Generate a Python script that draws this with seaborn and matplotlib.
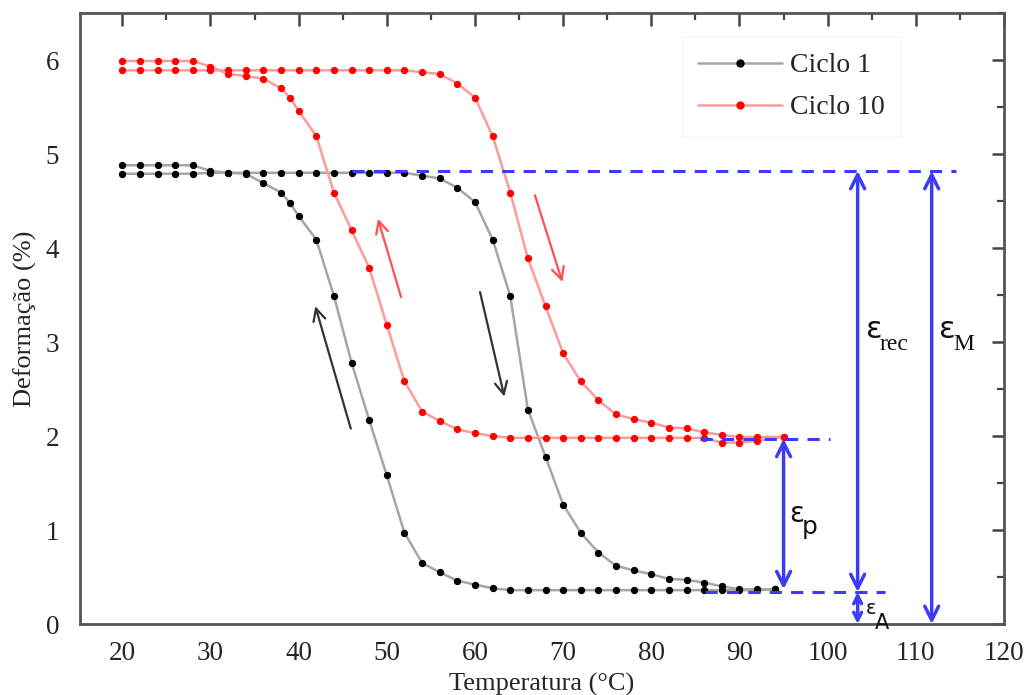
import numpy as np
import pandas as pd
import matplotlib
matplotlib.use("Agg")
import matplotlib.pyplot as plt
import seaborn as sns
from matplotlib.lines import Line2D
from matplotlib.ticker import MultipleLocator

# ---------------- data ----------------
c1_heat_T = [20, 22, 24, 26, 28, 30, 32, 34, 36, 38, 40, 42, 44, 46, 48, 50, 52,
             54, 56, 58, 60, 62, 64, 66, 68, 70, 72, 74, 76, 78, 80, 82, 84, 86, 88, 90, 92, 94]
c1_heat_D = [4.79, 4.79, 4.79, 4.79, 4.79, 4.80, 4.80, 4.80, 4.80, 4.80, 4.80, 4.80, 4.80, 4.80, 4.80, 4.80, 4.80,
             4.77, 4.74, 4.64, 4.49, 4.09, 3.49, 2.28, 1.78, 1.27, 0.97, 0.76, 0.62, 0.57, 0.53, 0.48, 0.47, 0.44, 0.40, 0.37, 0.37, 0.37]

c1_cool_T = [94, 92, 90, 88, 86, 84, 82, 80, 78, 76, 74, 72, 70, 68, 66, 64, 62, 60, 58, 56, 54, 52,
             50, 48, 46, 44, 42, 40, 39, 38, 36, 34, 32, 30, 28, 26, 24, 22, 20]
c1_cool_D = [0.37, 0.36, 0.36, 0.36, 0.36, 0.36, 0.36, 0.36, 0.36, 0.36, 0.36, 0.36, 0.36, 0.36, 0.36, 0.36, 0.38, 0.42, 0.46, 0.55, 0.65, 0.97,
             1.58, 2.17, 2.78, 3.49, 4.09, 4.34, 4.48, 4.59, 4.69, 4.79, 4.80, 4.82, 4.88, 4.88, 4.88, 4.88, 4.88]

c10_heat_T = [20, 22, 24, 26, 28, 30, 32, 34, 36, 38, 40, 42, 44, 46, 48, 50, 52,
              54, 56, 58, 60, 62, 64, 66, 68, 70, 72, 74, 76, 78, 80, 82, 84, 86, 88, 90, 92, 95]
c10_heat_D = [5.89, 5.89, 5.89, 5.89, 5.89, 5.89, 5.89, 5.89, 5.89, 5.89, 5.89, 5.89, 5.89, 5.89, 5.89, 5.89, 5.89,
              5.87, 5.85, 5.75, 5.60, 5.19, 4.59, 3.89, 3.38, 2.88, 2.58, 2.38, 2.23, 2.18, 2.14, 2.09, 2.08, 2.04, 2.01, 1.99, 1.99, 1.99]

c10_cool_T = [95, 92, 90, 88, 86, 84, 82, 80, 78, 76, 74, 72, 70, 68, 66, 64, 62, 60, 58, 56, 54, 52,
              50, 48, 46, 44, 42, 40, 39, 38, 36, 34, 32, 30, 28, 26, 24, 22, 20]
c10_cool_D = [1.99, 1.95, 1.93, 1.93, 1.98, 1.98, 1.98, 1.98, 1.98, 1.98, 1.98, 1.98, 1.98, 1.98, 1.98, 1.98, 2.00, 2.03, 2.07, 2.16, 2.26, 2.58,
              3.18, 3.79, 4.19, 4.59, 5.19, 5.46, 5.60, 5.70, 5.80, 5.83, 5.85, 5.93, 5.99, 5.99, 5.99, 5.99, 5.99]

series_labels = ["Ciclo 1", "Ciclo 10"]
x_ticks = [20, 30, 40, 50, 60, 70, 80, 90, 100, 110, 120]
y_ticks = [0, 1, 2, 3, 4, 5, 6]

# annotation levels
eps_M_level = 4.82
eps_p_top = 1.97
eps_A_level = 0.34

# ---------------- style ----------------
sns.set_theme(style="white")
plt.rcParams["font.family"] = ["Liberation Serif", "DejaVu Serif"]

fig = plt.figure(figsize=(10.33, 6.95), dpi=100)
ax = fig.add_axes([80 / 1033, (695 - 624) / 695, (1004 - 80) / 1033, (624 - 13) / 695])

line_black = "#a6a6a6"
line_red = "#ff9a9a"

branches = [
    (c1_heat_T, c1_heat_D, line_black, "black"),
    (c1_cool_T, c1_cool_D, line_black, "black"),
    (c10_heat_T, c10_heat_D, line_red, "red"),
    (c10_cool_T, c10_cool_D, line_red, "red"),
]
for T, D, lc, mc in branches:
    df = pd.DataFrame({"T": T, "D": D})
    sns.lineplot(data=df, x="T", y="D", sort=False, ax=ax, color=lc, lw=1.8,
                 marker="o", markersize=4.5, markerfacecolor=mc, markeredgecolor=mc,
                 legend=False)

# direction arrows
arr_kw = dict(arrowstyle="->", lw=1.6, mutation_scale=22)
ax.annotate("", xy=(41.8, 3.41), xytext=(46.0, 2.05), arrowprops=dict(color="#333333", **arr_kw))
ax.annotate("", xy=(63.4, 2.39), xytext=(60.5, 3.56), arrowprops=dict(color="#333333", **arr_kw))
ax.annotate("", xy=(48.9, 4.34), xytext=(51.7, 3.45), arrowprops=dict(color="#ff5050", **arr_kw))
ax.annotate("", xy=(70.0, 3.61), xytext=(66.7, 4.59), arrowprops=dict(color="#ff5050", **arr_kw))

# blue dashed reference lines
blue = "#3c3cf5"
dash_kw = dict(color=blue, lw=2.2, ls=(0, (4, 3)))
ax.plot([46, 114.6], [eps_M_level, eps_M_level], **dash_kw)
ax.plot([85.5, 100.3], [eps_p_top, eps_p_top], **dash_kw)
ax.plot([86.1, 106.5], [eps_A_level, eps_A_level], **dash_kw)

# double arrows
darr = dict(arrowstyle="<->", color=blue, lw=2.5, mutation_scale=25, shrinkA=0, shrinkB=0)
ax.annotate("", xy=(95.0, eps_p_top), xytext=(95.0, 0.37), arrowprops=darr)
ax.annotate("", xy=(103.4, eps_M_level), xytext=(103.4, eps_A_level), arrowprops=darr)
ax.annotate("", xy=(103.4, eps_A_level), xytext=(103.4, 0.0), arrowprops=dict(darr, mutation_scale=14))
ax.annotate("", xy=(111.8, eps_M_level), xytext=(111.8, 0.0), arrowprops=darr)

# epsilon labels: symbol plus subscript placed right after it
def eps_label(x, y, sub, fs=22, sfs=17, sans=False, dx=1.5, dy=-0.16):
    fam = ["DejaVu Sans"] if sans else ["Liberation Serif", "DejaVu Serif"]
    ax.text(x, y, "ε", fontsize=fs, family=["DejaVu Sans"], ha="left", va="center", color="#111111")
    ax.text(x + dx, y + dy, sub, fontsize=sfs, family=fam, ha="left", va="center", color="#111111")

eps_label(95.6, 1.17, "p", sans=True, fs=20, sfs=18, dx=1.45, dy=-0.14)
eps_label(104.3, 3.13, "rec", dx=1.6)
eps_label(112.6, 3.13, "M", dx=1.6)
eps_label(104.3, 0.17, "A", sans=True, fs=14, sfs=15, dx=1.1, dy=-0.16)

# axes
ax.set_xlim(15.2, 120)
ax.set_ylim(0, 6.5)
ax.set_xticks(x_ticks)
ax.set_yticks(y_ticks)
ax.set_xticklabels([str(t) for t in x_ticks])
ax.set_yticklabels([str(t) for t in y_ticks])
ax.xaxis.set_minor_locator(MultipleLocator(5))
ax.yaxis.set_minor_locator(MultipleLocator(0.5))
ax.tick_params(which="major", direction="in", length=9, width=1.8, color="#444444",
               top=True, right=True, labelsize=19.5, pad=12)
ax.tick_params(which="minor", direction="in", length=5, width=1.6, color="#444444",
               top=True, right=True)
ax.tick_params(axis="y", pad=15)
for s in ax.spines.values():
    s.set_color("#555555")
    s.set_linewidth(2)
ax.set_xlabel("Temperatura (°C)", fontsize=19, labelpad=5)
ax.set_ylabel("Deformação (%)", fontsize=19, labelpad=6)

handles = [
    Line2D([], [], color=line_black, lw=1.8, marker="o", markersize=5,
           markerfacecolor="black", markeredgecolor="black"),
    Line2D([], [], color=line_red, lw=1.8, marker="o", markersize=5,
           markerfacecolor="red", markeredgecolor="red"),
]
leg = ax.legend(handles, series_labels, loc="upper left", bbox_to_anchor=(0.651, 0.962),
                fontsize=20, frameon=True, handlelength=3.0, handletextpad=0.3,
                labelspacing=0.6, borderpad=0.6, fancybox=False, borderaxespad=0)
leg.get_frame().set_edgecolor("#f7f7f7")
leg.get_frame().set_linewidth(1)

fig.savefig("out.png", dpi=100)
